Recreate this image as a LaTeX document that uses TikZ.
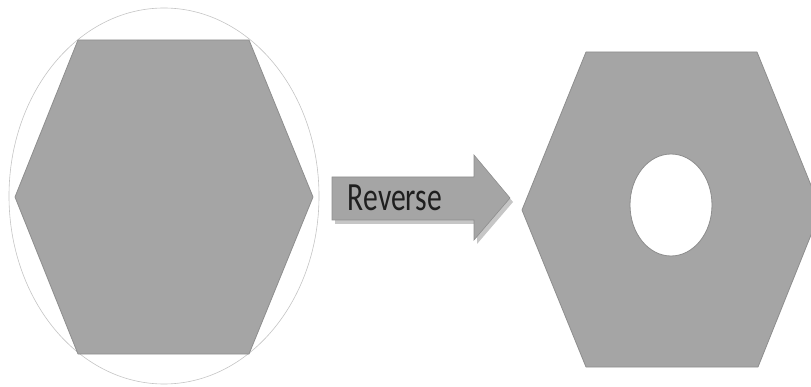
\documentclass[tikz,border=0pt]{standalone}
\usepackage{fontspec}
\setmainfont{Carlito}
\usepackage{xcolor}
\usetikzlibrary{shadows}
\definecolor{hexgray}{HTML}{A5A5A5}
\definecolor{hexedge}{HTML}{8E8E8E}
\definecolor{ringgray}{HTML}{C4C4C4}

\begin{document}
\begin{tikzpicture}[x=1pt,y=-1pt]
\tikzstyle{hexbody}=[fill=hexgray, draw=hexedge, line width=0.8pt, line join=round]
\tikzstyle{arrowbody}=[fill=hexgray, draw=hexedge, line width=0.6pt, drop shadow={shadow xshift=3pt, shadow yshift=-4pt, opacity=0.45}]
\useasboundingbox (0,0) rectangle (811,387);
% left: hexagon inside its circumscribed ellipse
\draw[ringgray, line width=0.6pt] (164,196) ellipse [x radius=155, y radius=188];
\draw[hexbody] (78,40) -- (249,40) -- (313,197) -- (249,354) -- (78,354) -- (15,197) -- cycle;
% arrow
\draw[arrowbody] (332,177) -- (474,177) -- (474,155) -- (510,198) -- (474,240) -- (474,220) -- (332,220) -- cycle;
\node[font=\fontsize{40}{44}\selectfont, text=black!88, anchor=base, inner sep=0pt] (rev) at (395,211) {\scalebox{0.74}[1]{Reverse}};
% right: hexagon with hole
\begin{scope}
\clip (0,0) rectangle (811,387);
\draw[hexbody, even odd rule] (586,52) -- (757,52) -- (821,210) -- (758,367) -- (586,367) -- (522,210) -- cycle
  (671,205) ellipse [x radius=41, y radius=51];
\end{scope}
\end{tikzpicture}
\end{document}
